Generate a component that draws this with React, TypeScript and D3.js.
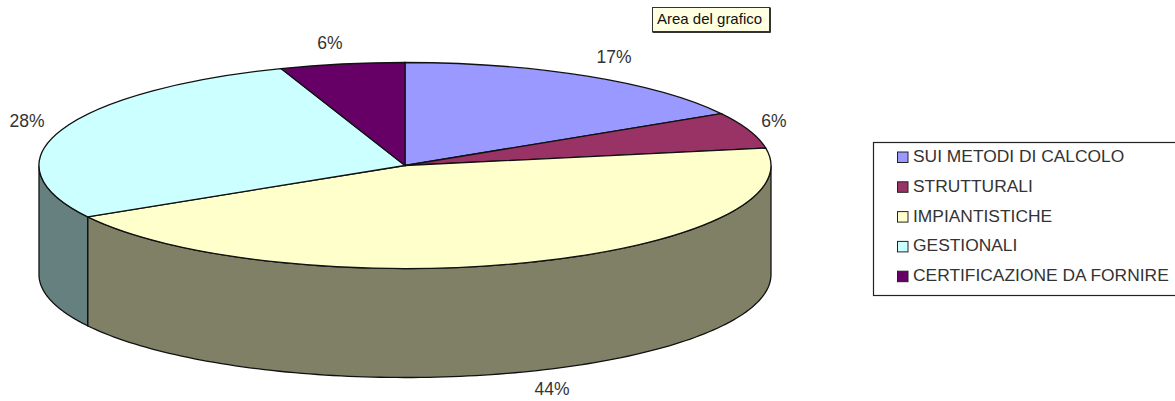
import React from "react";
import * as d3 from "d3";

const categories = ["SUI METODI DI CALCOLO", "STRUTTURALI", "IMPIANTISTICHE", "GESTIONALI", "CERTIFICAZIONE DA FORNIRE"];
const values = [16.6, 5.7, 44.4, 27.8, 5.5];
const percentLabels = ["17%", "6%", "44%", "28%", "6%"];
const colors = ["#9999ff", "#993366", "#ffffcc", "#ccffff", "#660066"];
const sideColors = ["#4d4d80", "#4d1a33", "#808066", "#668080", "#330033"];
const labelPositions: [number, number][] = [[614, 58], [774, 122], [552, 390], [27, 122], [330, 44]];

const W = 1175, H = 401;
const cx = 405, cy = 165.5, rx = 366, ry = 103, depth = 109;
const font = "'Liberation Sans', Arial, sans-serif";

const pt = (a: number, dy = 0): [number, number] => [cx + rx * Math.sin(a), cy - ry * Math.cos(a) + dy];

export default function App() {
  const arcs = d3.pie<number>().sort(null).startAngle(0).endAngle(2 * Math.PI)(values);
  const arcGen = d3.arc<d3.PieArcDatum<number>>().innerRadius(0).outerRadius(rx);
  const line = d3.line();
  const sides = arcs.map((d, i) => {
    const a0 = Math.max(d.startAngle, Math.PI / 2);
    const a1 = Math.min(d.endAngle, (3 * Math.PI) / 2);
    if (a1 <= a0) return null;
    const n = 120;
    const angles = d3.range(n + 1).map((k) => a0 + ((a1 - a0) * k) / n);
    const pts = [...angles.map((a) => pt(a)), ...angles.slice().reverse().map((a) => pt(a, depth))];
    return <path key={i} d={line(pts) + "Z"} fill={sideColors[i]} stroke="#111" strokeWidth={1.3} />;
  });
  return (
    <svg width={W} height={H} style={{ position: "absolute", left: 0, top: 0, background: "#fff" }}>
      {sides}
      <g transform={`translate(${cx},${cy}) scale(1,${ry / rx})`}>
        {arcs.map((d, i) => (
          <path key={i} d={arcGen(d)!} fill={colors[i]} stroke="#111" strokeWidth={1.3} vectorEffect="non-scaling-stroke" />
        ))}
      </g>
      <g fontFamily={font} fontSize={17.5} fill="#333">
        {percentLabels.map((t, i) => (
          <text key={i} x={labelPositions[i][0]} y={labelPositions[i][1]} textAnchor="middle" dominantBaseline="middle">{t}</text>
        ))}
      </g>
      <rect x={873.5} y={142.5} width={310} height={153} fill="#fff" stroke="#222" strokeWidth={1.2} />
      {categories.map((c, i) => {
        const y = 157 + i * 29.8;
        return (
          <g key={c}>
            <rect x={897.5} y={y - 5} width={10.5} height={10.5} fill={colors[i]} stroke="#222" strokeWidth={1} />
            <text x={913} y={y + 0.5} dominantBaseline="middle" fontFamily={font} fontSize={17.4} fill="#333">{c}</text>
          </g>
        );
      })}
      <rect x={652.5} y={7.5} width={117} height={24} fill="#ffffe1" stroke="#333" strokeWidth={1} />
      <path d="M770.5 7.5V32.5H652.5" fill="none" stroke="#333" strokeWidth={1} />
      <text x={657} y={20} dominantBaseline="middle" fontFamily={font} fontSize={15} fill="#111">Area del grafico</text>
    </svg>
  );
}
